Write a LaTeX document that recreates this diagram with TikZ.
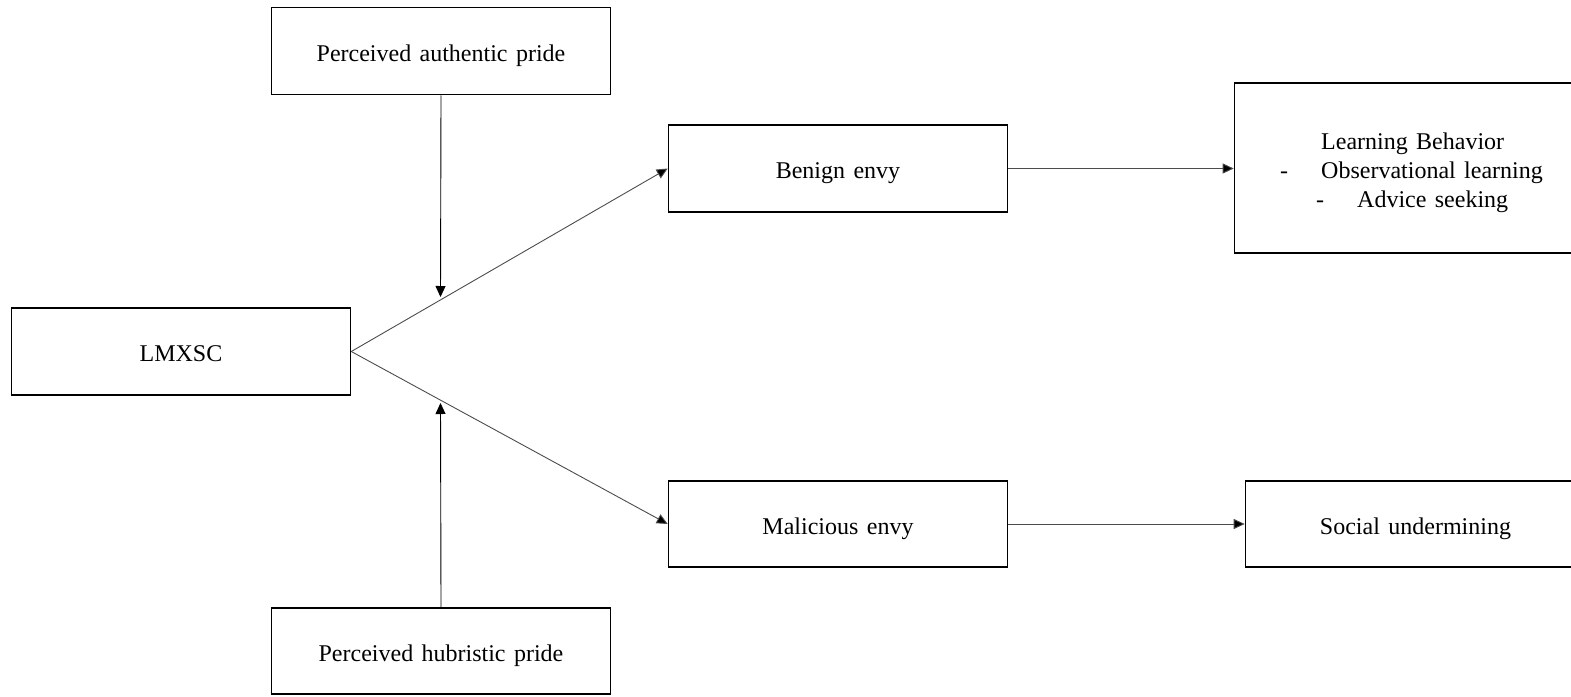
\documentclass[tikz,border=0pt]{standalone}
\usepackage{fontspec}
\setmainfont[WordSpace=1.4]{Liberation Serif}
\usetikzlibrary{arrows.meta}
\begin{document}
\begin{tikzpicture}[x=1pt,y=-1pt,
  box/.style={draw=black,line width=1.6pt,rectangle,inner sep=0pt,text height=24pt,text depth=4pt,font=\fontsize{24}{29}\selectfont},
  lbl/.style={inner sep=0pt,font=\fontsize{24}{29}\selectfont},
  conn/.style={draw=black!70,line width=0.9pt,-{Triangle[length=11pt,width=10pt,fill=black]}},
  vconn/.style={draw=black,line width=0.9pt,-{Triangle[length=11pt,width=10pt]}}]
\useasboundingbox (0,0) rectangle (1571,696);
\node[box,minimum width=339pt,minimum height=87pt] (auth) at (441,51) {Perceived authentic pride};
\node[box,minimum width=339pt,minimum height=87pt] (lmx) at (181,351.5) {LMXSC};
\node[box,minimum width=339pt,minimum height=86pt] (hub) at (441,651) {Perceived hubristic pride};
\node[box,minimum width=339pt,minimum height=87pt] (benign) at (838,168.5) {Benign envy};
\node[box,minimum width=339pt,minimum height=86pt] (mal) at (838,524) {Malicious envy};
\node[box,minimum width=351pt,minimum height=170pt] (learn) at (1410,168) {};
\node[box,minimum width=340pt,minimum height=86pt] (soc) at (1415.5,524) {Social undermining};
\node[lbl,anchor=base west] (l1) at (1321,149) {Learning Behavior};
\node[lbl,anchor=base west] (d1) at (1280,178) {-};
\node[lbl,anchor=base west] (l2) at (1321,178) {Observational learning};
\node[lbl,anchor=base west] (d2) at (1316,207) {-};
\node[lbl,anchor=base west] (l3) at (1357,207) {Advice seeking};
\coordinate (m1) at (440.5,297);
\coordinate (m2) at (440.5,403);
\draw[conn] (lmx.east) -- (benign.west);
\draw[conn] (lmx.east) -- (mal.west);
\draw[vconn] (auth.south) -- (m1);
\draw[vconn] (hub.north) -- (m2);
\draw[conn] (benign.east) -- (learn.west |- benign.east);
\draw[conn] (mal.east) -- (soc.west);
\end{tikzpicture}
\end{document}
